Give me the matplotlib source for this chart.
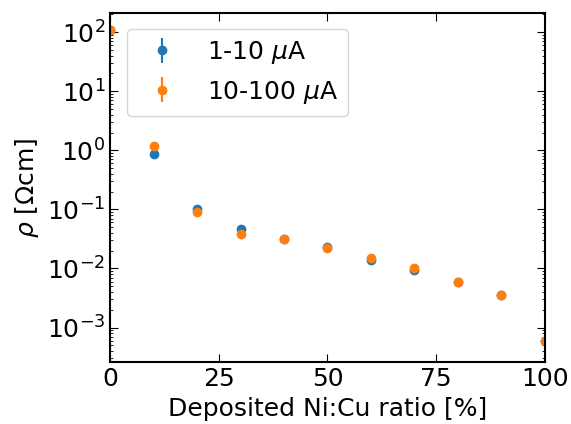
import matplotlib.pyplot as plt
import numpy as np

ratio = [0, 10, 20, 30, 40, 50, 60, 70, 80, 90, 100]
rho_low = [110, 0.86, 0.10, 0.046, 0.031, 0.023, 0.014, 0.0095, 0.0060, 0.0035, 0.00060]
err_low = [5, 0.03, 0.004, 0.002, 0.001, 0.001, 0.0025, 0.0008, 0.0002, 0.0001, 0.00002]
rho_high = [110, 1.2, 0.089, 0.038, 0.031, 0.022, 0.015, 0.010, 0.0060, 0.0035, 0.00060]
err_high = [5, 0.03, 0.003, 0.001, 0.001, 0.001, 0.0012, 0.0005, 0.0002, 0.0001, 0.00002]

plt.rcParams["font.size"] = 18

fig, ax = plt.subplots(figsize=(5.71, 4.24), dpi=100)
ax.errorbar(ratio, rho_low, yerr=err_low, fmt="o", label=r"1-10 $\mu$A")
ax.errorbar(ratio, rho_high, yerr=err_high, fmt="o", label=r"10-100 $\mu$A")

ax.set_yscale("log")
ax.set_xlim(0, 100)
ax.set_ylim(2.6e-4, 2.1e2)
ax.set_xticks([0, 25, 50, 75, 100])
ax.set_xlabel("Deposited Ni:Cu ratio [%]")
ax.set_ylabel(r"$\rho$ [$\Omega$cm]")
ax.tick_params(which="both", direction="in", top=True, right=True)
ax.tick_params(which="major", length=6)
for s in ax.spines.values():
    s.set_linewidth(1.5)
ax.legend(loc="upper left", bbox_to_anchor=(0.01, 0.99))

plt.subplots_adjust(left=0.193, right=0.954, top=0.969, bottom=0.146)
plt.savefig("out.png")
